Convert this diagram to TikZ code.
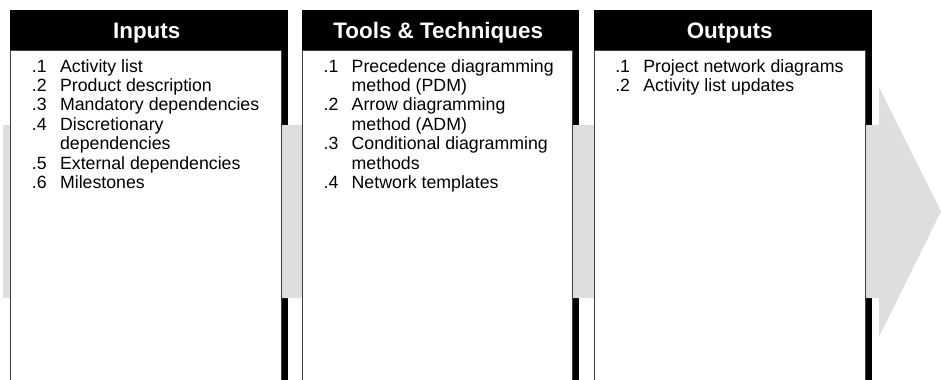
\documentclass[tikz,border=0pt]{standalone}
\usepackage{fontspec}
\setmainfont{Liberation Sans}
\usetikzlibrary{positioning,calc}

\begin{document}
\begin{tikzpicture}[
  x=0.75pt, y=-0.75pt,
  backing/.style={fill=black},
  band/.style={fill=black!13},
  panel/.style={draw=black!75, line width=0.9pt, fill=white},
  head/.style={font=\fontsize{16.8}{18}\selectfont\bfseries, text=white,
    anchor=base, inner sep=0pt},
  items/.style={font=\fontsize{13.3}{14.6}\selectfont, anchor=base west,
    inner sep=0pt, align=left}]
\useasboundingbox (0,0) rectangle (941,379);
\clip (0,0) rectangle (941,379);
% panel corners
\coordinate (in) at (10,10);
\coordinate (tt) at (301.7,10);
\coordinate (out) at (593.5,10);
% black backings: header band and shadow
\fill[backing] (in) rectangle ++(277.7,375);
\fill[backing] (tt) rectangle ++(277.7,375);
\fill[backing] (out) rectangle ++(278.2,375);
% grey flow arrow behind the panels
\fill[band] (3,125) -- (879,125) -- (879,87) -- (941,211.5)
  -- (879,336.5) -- (879,298) -- (3,298) -- cycle;
% white bodies
\draw[panel] ($(in)+(0.8,40.7)$) rectangle ++(271,340);
\draw[panel] ($(tt)+(0.8,40.7)$) rectangle ++(270,340);
\draw[panel] ($(out)+(0.8,40.7)$) rectangle ++(271,340);
% headings
\node[head] (hin) at ($(in)+(136.7,28.5)$) {Inputs};
\node[head] (htt) at ($(tt)+(136.5,28.5)$) {Tools \& Techniques};
\node[head] (hout) at ($(out)+(136.2,28.5)$) {Outputs};
% item lists
\node[items] (lin) at (31.7,72) {\begin{tabular}[t]{@{}l@{\hspace{10pt}}l@{}}
  .1 & Activity list\\
  .2 & Product description\\
  .3 & Mandatory dependencies\\
  .4 & Discretionary\\
     & dependencies\\
  .5 & External dependencies\\
  .6 & Milestones
\end{tabular}};
\node[items] (ltt) at (323.3,72) {\begin{tabular}[t]{@{}l@{\hspace{10pt}}l@{}}
  .1 & Precedence diagramming\\
     & method (PDM)\\
  .2 & Arrow diagramming\\
     & method (ADM)\\
  .3 & Conditional diagramming\\
     & methods\\
  .4 & Network templates
\end{tabular}};
\node[items] (lout) at (615,72) {\begin{tabular}[t]{@{}l@{\hspace{10pt}}l@{}}
  .1 & Project network diagrams\\
  .2 & Activity list updates
\end{tabular}};
\end{tikzpicture}
\end{document}
